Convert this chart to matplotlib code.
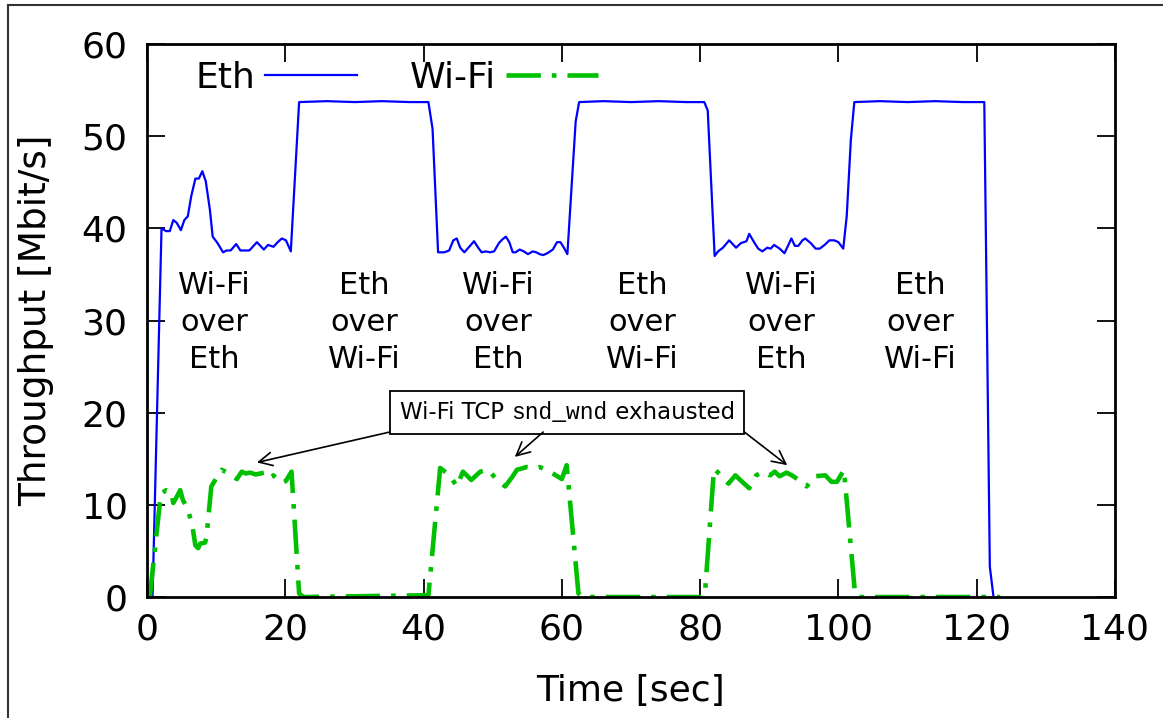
import matplotlib
matplotlib.use('Agg')
import matplotlib.pyplot as plt
from matplotlib.lines import Line2D
from matplotlib.offsetbox import TextArea, HPacker, AnnotationBbox

plt.rcParams['font.family'] = ['DejaVu Sans']

# Eth 吞吐量 (sec, Mbit/s)
eth_t = [0.8, 2.1, 2.75, 3.3, 3.8, 4.3, 4.9, 5.4, 5.9, 6.4, 7.0, 7.5, 8.0, 8.5, 9.1, 9.5,
         10.2, 11.0, 11.5, 12.1, 12.9, 13.5, 14.8, 15.9, 16.9, 17.5, 18.3, 18.9, 19.5, 20.1,
         20.8, 22.0, 26.0, 30.0, 34.0, 38.0, 40.7, 41.3, 42.1, 43.0, 43.7, 44.3, 44.8, 45.3,
         45.9, 46.6, 47.3, 47.9, 48.4, 49.0, 49.6, 50.2, 50.9, 51.4, 51.9, 52.4, 52.9, 53.3,
         53.9, 54.5, 55.1, 55.8, 56.3, 56.8, 57.3, 57.9, 58.7, 59.3, 59.8, 60.3, 60.8, 62.0,
         62.5, 66.0, 70.0, 74.0, 78.0, 80.6, 81.1, 82.1, 82.6, 83.3, 84.2, 85.2, 85.9, 86.7,
         87.1, 87.8, 88.4, 89.0, 89.7, 90.2, 90.7, 91.5, 92.2, 93.2, 93.7, 94.2, 94.8, 95.2,
         96.0, 96.7, 97.3, 98.0, 98.7, 99.4, 100.0, 100.7, 101.2, 101.8, 102.3, 106.0, 110.0,
         114.0, 118.0, 121.1, 121.9, 122.4]
eth_v = [0.0, 40.0, 39.7, 39.7, 40.9, 40.6, 39.8, 40.9, 41.3, 43.5, 45.4, 45.4, 46.2, 45.1, 42.0, 39.1,
         38.4, 37.4, 37.6, 37.6, 38.3, 37.6, 37.6, 38.5, 37.7, 38.2, 38.0, 38.5, 38.9, 38.7,
         37.5, 53.7, 53.8, 53.7, 53.8, 53.7, 53.7, 50.8, 37.4, 37.4, 37.6, 38.7, 38.9, 37.9,
         37.4, 38.0, 38.6, 37.9, 37.4, 37.5, 37.4, 37.5, 38.4, 38.8, 39.1, 38.5, 37.4, 37.4,
         37.7, 37.5, 37.2, 37.5, 37.4, 37.2, 37.1, 37.3, 37.7, 38.5, 38.5, 37.9, 37.2, 51.6,
         53.7, 53.8, 53.7, 53.8, 53.7, 53.7, 52.8, 37.0, 37.5, 37.9, 38.7, 37.9, 38.4, 38.6,
         39.4, 38.5, 37.8, 37.5, 37.9, 37.8, 38.2, 37.8, 37.3, 38.9, 38.1, 38.1, 38.7, 38.9,
         38.4, 37.8, 37.8, 38.2, 38.7, 38.7, 38.5, 37.8, 41.3, 49.6, 53.7, 53.8, 53.7,
         53.8, 53.7, 53.7, 3.3, 0.2]

# Wi-Fi 吞吐量 (sec, Mbit/s)
wifi_t = [0.4, 2.0, 2.8, 3.5, 3.8, 4.4, 4.8, 5.2, 5.9, 6.6, 7.0, 7.4, 7.7, 8.4, 8.6, 9.3,
          10.2, 10.8, 11.6, 12.3, 13.0, 13.7, 14.3, 14.9, 15.7, 16.4, 17.0, 17.8, 18.3, 19.0,
          19.5, 20.1, 20.9, 22.0, 22.6, 40.7, 42.4, 43.8, 44.8, 45.7, 46.9, 48.2, 49.4, 50.6,
          51.8, 52.8, 53.5, 54.9, 56.1, 56.8, 57.7, 58.7, 60.0, 60.7, 62.4, 63.0, 80.2, 80.7,
          82.0, 82.9, 84.1, 85.1, 85.8, 87.1, 88.1, 89.1, 90.1, 90.8, 91.5, 92.5, 93.5, 94.6,
          95.4, 96.6, 98.1, 99.0, 99.8, 100.8, 102.4, 103.0, 123.4]
wifi_v = [0.0, 11.2, 11.6, 11.4, 10.2, 11.0, 11.6, 10.5, 9.6, 7.5, 5.6, 5.3, 5.8, 5.9, 6.5, 12.0,
          13.1, 13.8, 13.5, 13.2, 12.8, 13.6, 13.4, 13.5, 13.3, 13.4, 13.5, 12.9, 13.2, 12.6,
          12.4, 12.6, 13.6, 0.4, 0.0, 0.2, 14.0, 13.2, 12.0, 13.6, 12.7, 13.6, 13.8, 12.7,
          12.0, 13.0, 13.8, 14.1, 14.0, 14.1, 13.8, 13.4, 12.8, 14.3, 0.4, 0.0, 0.0, 0.4,
          13.9, 13.3, 12.3, 13.2, 12.7, 11.8, 13.2, 13.6, 13.2, 13.6, 13.1, 13.5, 13.1, 12.5,
          12.0, 13.1, 13.2, 12.5, 12.5, 13.8, 0.4, 0.0, 0.0]

# 阶段标签
phase_x = [9.8, 31.5, 50.8, 71.7, 91.8, 111.8]
phase_labels = ['Wi-Fi\nover\nEth', 'Eth\nover\nWi-Fi'] * 3

# 注释箭头：起点(框底边) -> 目标点
arrow_xy = [(15.9, 14.6), (53.2, 15.2), (92.6, 14.3)]
arrow_from = [(35.1, 17.9), (57.3, 17.9), (86.4, 17.9)]

FS = 26

fig = plt.figure(figsize=(11.63, 7.18), dpi=100)
ax = fig.add_axes([0.1264, 0.1685, 0.9587 - 0.1264, 0.9387 - 0.1685])

ax.plot(eth_t, eth_v, color='#0000ff', lw=1.6, label='Eth')
ax.plot(wifi_t, wifi_v, color='#00c000', lw=3.3, dashes=(7.5, 2.4, 1.0, 2.4), label='Wi-Fi')

ax.set_xlim(0, 140)
ax.set_ylim(0, 60)
ax.set_xticks(range(0, 141, 20))
ax.set_yticks(range(0, 61, 10))
ax.tick_params(direction='in', length=13, width=1.3, top=True, right=True, labelsize=FS)
ax.tick_params(axis='x', pad=11)
ax.tick_params(axis='y', pad=14)
for s in ax.spines.values():
    s.set_linewidth(2)
ax.set_xlabel('Time [sec]', fontsize=FS, labelpad=20)
ax.set_ylabel('Throughput [Mbit/s]', fontsize=27, labelpad=20)

for x, lab in zip(phase_x, phase_labels):
    ax.text(x, 29.8, lab, ha='center', va='center', fontsize=22, linespacing=1.36)

# 注释框（等宽字体部分用 Liberation Mono）
parts = [
    TextArea('Wi-Fi TCP ', textprops=dict(fontsize=16.5, family='DejaVu Sans')),
    TextArea('snd_wnd', textprops=dict(fontsize=16.5, family='Liberation Mono')),
    TextArea(' exhausted', textprops=dict(fontsize=16.5, family='DejaVu Sans')),
]
box = HPacker(children=parts, align='baseline', pad=0, sep=0)
ab = AnnotationBbox(box, (60.8, 20.0), xycoords='data', frameon=True, pad=0.7,
                    bboxprops=dict(fc='white', ec='black', lw=1.3))
ax.add_artist(ab)
for xy, src in zip(arrow_xy, arrow_from):
    ax.annotate('', xy=xy, xytext=src,
                arrowprops=dict(arrowstyle='->', color='black', lw=1.2, mutation_scale=24,
                                shrinkA=0, shrinkB=0))

ax.legend(loc='center left', bbox_to_anchor=(0.0496, 0.9385), ncol=2, frameon=False,
          markerfirst=False, fontsize=FS, handlelength=2.55, handletextpad=0.28,
          columnspacing=1.47, borderpad=0, borderaxespad=0)

# 外框
fig.add_artist(Line2D([8 / 1163, 1.0], [1 - 5 / 718] * 2, transform=fig.transFigure,
                      color='#333333', lw=1.5))
fig.add_artist(Line2D([8 / 1163] * 2, [0.0, 1 - 5 / 718], transform=fig.transFigure,
                      color='#333333', lw=1.5))

fig.savefig('out.png', dpi=100)
